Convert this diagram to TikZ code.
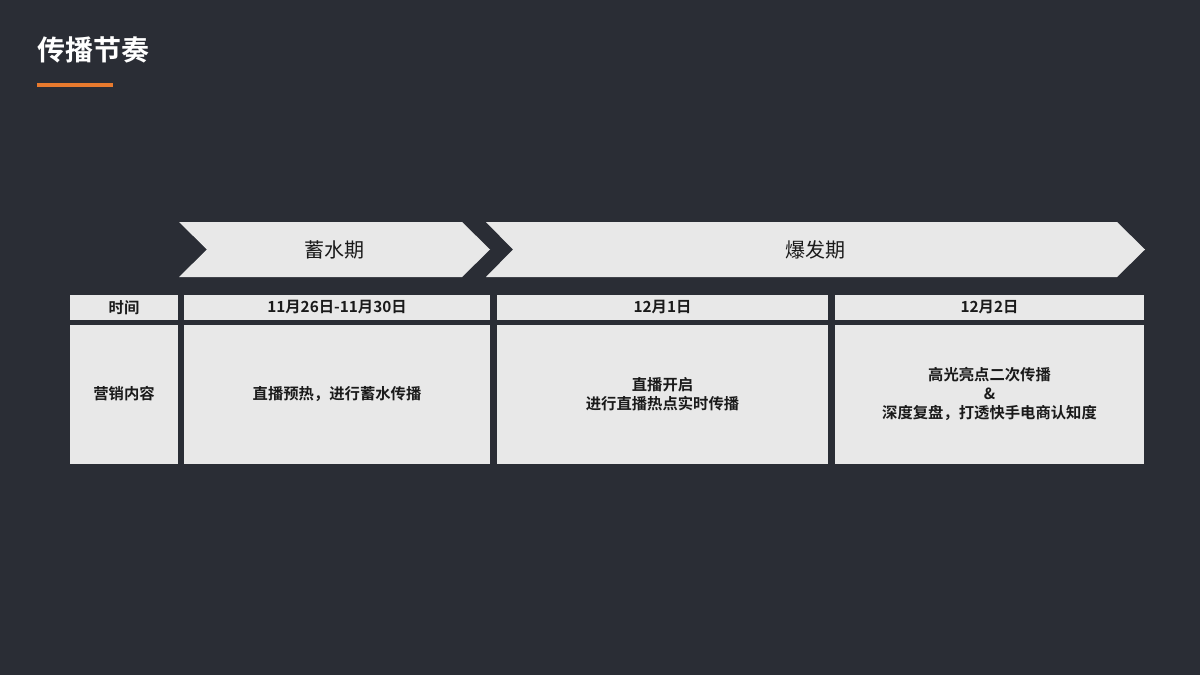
\documentclass[tikz,border=0pt]{standalone}
\usepackage{fontspec}
\setmainfont{Noto Sans CJK SC}
\newfontfamily\cjkb{Noto Sans CJK SC Bold}
\definecolor{bg}{HTML}{2A2D35}
\definecolor{cell}{HTML}{E8E8E8}
\definecolor{org}{HTML}{E87A2E}
\definecolor{txt}{HTML}{1A1A1A}
\begin{document}
\begin{tikzpicture}[x=0.75pt,y=-0.75pt,
  cellbox/.style={fill=cell,draw=none},
  celltext/.style={font=\cjkb\fontsize{11.5}{14}\selectfont,text=txt,align=center},
  chev/.style={fill=cell,draw=none}]
\fill[bg] (0,0) rectangle (1200,675);
\useasboundingbox (0,0) rectangle (1200,675);
\node[anchor=west,text=white,font=\cjkb\fontsize{21}{24}\selectfont] (title) at (33,50) {传播节奏};
\draw[org,line width=3pt] (37,85) -- (113,85);
\fill[chev] (179,222) -- (462,222) -- (490,249.5) -- (462,277) -- (179,277) -- (207,249.5) -- cycle;
\fill[chev] (486,222) -- (1117,222) -- (1145,249.5) -- (1117,277) -- (486,277) -- (513,249.5) -- cycle;
\node[font=\fontsize{15}{18}\selectfont,text=txt] (c1) at (334,249.5) {蓄水期};
\node[font=\fontsize{15}{18}\selectfont,text=txt] (c2) at (815,249.5) {爆发期};
\foreach \a/\b/\n in {70/178/a,184/490/b,497/828/c,835/1144/d}{
  \fill[cellbox] (\a,295) rectangle (\b,320);
  \fill[cellbox] (\a,325) rectangle (\b,464);
}
\node[celltext] (h1) at (124,307.5) {时间};
\node[celltext] (h2) at (337,307.5) {11月26日-11月30日};
\node[celltext] (h3) at (662.5,307.5) {12月1日};
\node[celltext] (h4) at (989.5,307.5) {12月2日};
\node[celltext] (r1) at (124,394) {营销内容};
\node[celltext] (r2) at (337,394) {直播预热，进行蓄水传播};
\node[celltext] (r3) at (662.5,394) {直播开启\\进行直播热点实时传播};
\node[celltext] (r4) at (989.5,394) {高光亮点二次传播\\\&\\深度复盘，打透快手电商认知度};
\end{tikzpicture}
\end{document}
